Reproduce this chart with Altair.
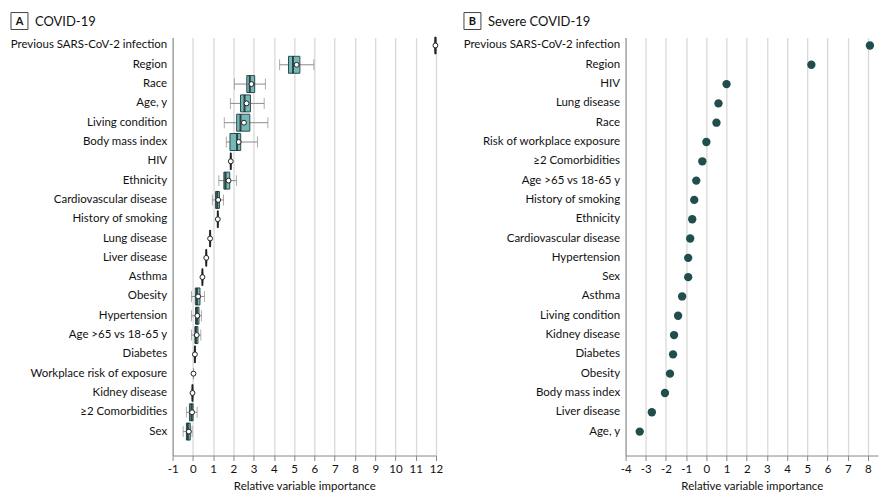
import altair as alt
import pandas as pd

# ---------------- Panel A: COVID-19 (box plots) ----------------
a_labels = ["Previous SARS-CoV-2 infection", "Region", "Race", "Age, y", "Living condition",
            "Body mass index", "HIV", "Ethnicity", "Cardiovascular disease", "History of smoking",
            "Lung disease", "Liver disease", "Asthma", "Obesity", "Hypertension",
            "Age >65 vs 18-65 y", "Diabetes", "Workplace risk of exposure", "Kidney disease",
            "≥2 Comorbidities", "Sex"]
a_lo = [11.92, 4.28, 2.05, 1.85, 1.55, 1.65, 1.84, 1.28, 0.96, 1.21, 0.82, 0.63, 0.44,
        -0.07, -0.07, -0.07, 0.07, 0.03, -0.05, -0.32, -0.48]
a_q1 = [11.95, 4.72, 2.66, 2.35, 2.16, 1.83, 1.86, 1.53, 1.12, 1.22, 0.84, 0.65, 0.46,
        0.12, 0.13, 0.10, 0.09, None, -0.03, -0.17, -0.32]
a_med = [11.97, 4.94, 2.81, 2.55, 2.35, 2.18, 1.87, 1.61, 1.20, 1.23, 0.85, 0.66, 0.47,
         0.20, 0.20, 0.15, 0.10, None, -0.02, -0.07, -0.25]
a_q3 = [11.99, 5.28, 3.05, 2.84, 2.81, 2.36, 1.88, 1.82, 1.31, 1.24, 0.86, 0.67, 0.48,
        0.35, 0.30, 0.25, 0.11, None, -0.01, 0.01, -0.13]
a_hi = [12.0, 5.97, 3.58, 3.52, 3.70, 3.19, 1.90, 2.15, 1.51, 1.25, 0.88, 0.69, 0.50,
        0.57, 0.42, 0.39, 0.13, 0.03, 0.01, 0.21, -0.04]
a_mean = [11.97, 5.12, 2.89, 2.65, 2.52, 2.26, 1.87, 1.76, 1.25, 1.23, 0.85, 0.66, 0.47,
          0.26, 0.22, 0.19, 0.10, 0.03, -0.02, -0.04, -0.20]
a_ticks = list(range(-1, 13))

# ---------------- Panel B: Severe COVID-19 (points) ----------------
b_labels = ["Previous SARS-CoV-2 infection", "Region", "HIV", "Lung disease", "Race",
            "Risk of workplace exposure", "≥2 Comorbidities", "Age >65 vs 18-65 y",
            "History of smoking", "Ethnicity", "Cardiovascular disease", "Hypertension", "Sex",
            "Asthma", "Living condition", "Kidney disease", "Diabetes", "Obesity",
            "Body mass index", "Liver disease", "Age, y"]
b_vals = [8.1, 5.2, 1.0, 0.6, 0.5, 0.0, -0.2, -0.5, -0.6, -0.7, -0.8, -0.9, -0.9, -1.2,
          -1.4, -1.6, -1.65, -1.8, -2.05, -2.7, -3.3]
b_ticks = list(range(-4, 9))

FONT = "Lato"
FS = 11.5
TEAL = "#74B9B7"
DARK = "#2C4A49"
PT = "#1F4E4C"

dfa = pd.DataFrame({"label": a_labels, "lo": a_lo, "q1": a_q1, "med": a_med,
                    "q3": a_q3, "hi": a_hi, "mean": a_mean})
dfb = pd.DataFrame({"label": b_labels, "val": b_vals})

def yscale():
    return alt.Scale(type="band", paddingInner=0.2, paddingOuter=0.427, align=0.016)

def yaxis():
    return alt.Axis(title=None, ticks=False, labelPadding=6, domainColor="#888888",
                    labelFont=FONT, labelFontSize=FS, labelColor="#111111", labelLimit=300)

def xaxis(vals):
    return alt.Axis(title="Relative variable importance", values=vals, grid=True,
                    gridColor="#d9d9d9", gridWidth=1.3, domainColor="#888888",
                    tickColor="#888888", tickSize=5, labelFont=FONT, labelFontSize=FS,
                    labelColor="#111111", titleFont=FONT, titleFontSize=FS,
                    titleFontWeight="normal", titleColor="#111111", labelPadding=3,
                    titlePadding=6, labelExpr="datum.value + ''",
                    labelOverlap=False, labelFlush=False)

W, H = 264, 419

def xa(field):
    return alt.X(field, scale=alt.Scale(domain=[-1, 12], nice=False), axis=xaxis(a_ticks))

yA = alt.Y("label:N", sort=a_labels, scale=yscale(), axis=yaxis())

baseA = alt.Chart(dfa)
whisk = baseA.mark_rule(color="#8a8a8a", strokeWidth=1).encode(x=xa("lo:Q"), x2="hi:Q", y=yA)
capl = baseA.mark_tick(color="#8a8a8a", size=11, thickness=1).encode(x=xa("lo:Q"), y=yA)
caph = baseA.mark_tick(color="#8a8a8a", size=11, thickness=1).encode(x=xa("hi:Q"), y=yA)
box = baseA.mark_bar(size=17, fill=TEAL, stroke=DARK, strokeWidth=1).encode(
    x=xa("q1:Q"), x2="q3:Q", y=yA)
med = baseA.mark_tick(color="#111111", size=17, thickness=2).encode(x=xa("med:Q"), y=yA)
mean = baseA.mark_point(filled=True, fill="white", stroke="#222222", strokeWidth=1,
                        size=24, opacity=1).encode(x=xa("mean:Q"), y=yA)

one = pd.DataFrame({"k": [0]})

def panel_title(letter, text, bx):
    frame = alt.Chart(one).mark_rect(fill="white", stroke="#444444", strokeWidth=1).encode(
        x=alt.value(bx), x2=alt.value(bx + 17), y=alt.value(-25), y2=alt.value(-8))
    let = alt.Chart(one).mark_text(font=FONT, fontSize=11, fontWeight="bold",
                                   color="#111111", align="center", baseline="middle").encode(
        x=alt.value(bx + 8.5), y=alt.value(-16), text=alt.value(letter))
    ttl = alt.Chart(one).mark_text(font=FONT, fontSize=13, color="#111111",
                                   align="left", baseline="middle").encode(
        x=alt.value(bx + 24), y=alt.value(-16), text=alt.value(text))
    return frame + let + ttl

panelA = alt.layer(whisk, capl, caph, box, med, mean,
                   panel_title("A", "COVID-19", -162)).properties(width=W, height=H)

xB = alt.X("val:Q", scale=alt.Scale(domain=[-4, 8.5], nice=False), axis=xaxis(b_ticks))
yB = alt.Y("label:N", sort=b_labels, scale=yscale(), axis=yaxis())
pts = alt.Chart(dfb).mark_circle(color=PT, size=70, opacity=1).encode(x=xB, y=yB)

panelB = alt.layer(pts, panel_title("B", "Severe COVID-19", -162)).properties(
    width=253, height=H)

chart = alt.hconcat(panelA, panelB, spacing=20).resolve_scale(
    x="independent", y="independent").properties(
    padding={"left": 2, "top": 3, "right": 2, "bottom": 2}
).configure_view(stroke=None).configure_axisX(labelOverlap=False)

chart.save("out.html", embed_options={"renderer": "svg", "actions": False})
